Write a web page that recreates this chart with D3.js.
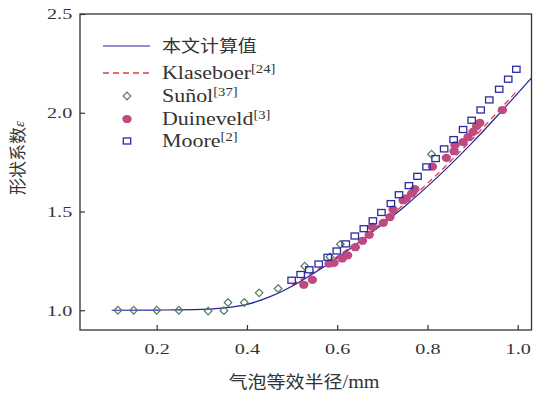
<!DOCTYPE html>
<meta charset="utf-8">
<script src="https://d3js.org/d3.v7.min.js"></script>
<html>
<head>
  <style>
    body { margin: 0; background: #fff; }
    .serif { font-family: "Liberation Serif", "DejaVu Serif", serif; }
    .cjk { font-family: "Noto Sans CJK SC", sans-serif; }
  </style>
</head>
<body>
<div id="my_dataviz"></div>
<script>
// ---- data ----
// 本文计算值 (blue line)
var calcX = [0.10, 0.20, 0.30, 0.35, 0.40, 0.45, 0.50, 0.55, 0.60, 0.65, 0.70, 0.75, 0.80, 0.85, 0.90, 0.95, 1.00, 1.03];
var calcY = [1.000, 1.001, 1.004, 1.012, 1.030, 1.068, 1.122, 1.190, 1.265, 1.348, 1.435, 1.527, 1.627, 1.735, 1.850, 1.972, 2.098, 2.175];

// Klaseboer (red dashed)
var klasX = [0.50, 0.55, 0.60, 0.65, 0.70, 0.75, 0.80, 0.85, 0.90, 0.95, 1.00];
var klasY = [1.128, 1.197, 1.272, 1.356, 1.445, 1.540, 1.642, 1.752, 1.868, 1.990, 2.115];

// Suñol (diamonds)
var sunolX = [0.114, 0.149, 0.200, 0.249, 0.314, 0.349, 0.358, 0.394, 0.427, 0.469, 0.528, 0.584, 0.607, 0.809];
var sunolY = [1.000, 1.000, 1.000, 1.000, 0.996, 0.998, 1.039, 1.039, 1.088, 1.110, 1.223, 1.270, 1.334, 1.790];

// Duineveld (filled circles)
var duinX = [0.526, 0.545, 0.582, 0.593, 0.611, 0.623, 0.640, 0.656, 0.671, 0.678, 0.702, 0.717, 0.724, 0.746, 0.753, 0.765, 0.772, 0.811, 0.842, 0.859, 0.861, 0.879, 0.890, 0.901, 0.909, 0.916, 0.966];
var duinY = [1.129, 1.154, 1.236, 1.240, 1.262, 1.278, 1.319, 1.352, 1.382, 1.422, 1.442, 1.472, 1.509, 1.557, 1.566, 1.591, 1.613, 1.727, 1.772, 1.805, 1.835, 1.851, 1.877, 1.903, 1.932, 1.949, 2.014];

// Moore (open squares)
var mooreX = [0.499, 0.519, 0.538, 0.559, 0.579, 0.599, 0.619, 0.639, 0.659, 0.679, 0.698, 0.719, 0.737, 0.759, 0.778, 0.798, 0.818, 0.837, 0.858, 0.879, 0.898, 0.918, 0.937, 0.959, 0.979, 0.997];
var mooreY = [1.152, 1.181, 1.205, 1.234, 1.268, 1.300, 1.336, 1.376, 1.413, 1.453, 1.495, 1.540, 1.585, 1.631, 1.678, 1.726, 1.768, 1.817, 1.864, 1.915, 1.962, 2.014, 2.065, 2.119, 2.170, 2.220];

var xTicks = [0.2, 0.4, 0.6, 0.8, 1.0];
var yTicks = [1.0, 1.5, 2.0, 2.5];

var legendNames = ["本文计算值", "Klaseboer", "Suñol", "Duineveld", "Moore"];
var legendRefs = ["", "[24]", "[37]", "[3]", "[2]"];

// ---- layout ----
var W = 538, H = 394;
var margin = {left: 80, right: 531.5, top: 14, bottom: 330};

var blue = "#23239a", red = "#e8373a", green = "#4f7d5c", pink = "#bf4a80", sqBlue = "#2c2ca0", axisCol = "#333";

var svg = d3.select("#my_dataviz")
  .append("svg")
    .attr("width", W)
    .attr("height", H);

var x = d3.scaleLinear().domain([0.03, 1.0306]).range([margin.left, margin.right]);
var y = d3.scaleLinear().domain([0.9, 2.5]).range([margin.bottom, margin.top]);

var zip = function(a, b) { return a.map(function(v, i) { return [v, b[i]]; }); };

// frame
svg.append("rect")
  .attr("x", margin.left).attr("y", margin.top)
  .attr("width", margin.right - margin.left).attr("height", margin.bottom - margin.top)
  .attr("fill", "none").attr("stroke", axisCol).attr("stroke-width", 1.3);

// bottom axis, ticks pointing inward
var gx = svg.append("g")
  .attr("transform", "translate(0," + margin.bottom + ")")
  .call(d3.axisBottom(x).tickValues(xTicks).tickSizeInner(-5).tickSizeOuter(0).tickPadding(13).tickFormat(d3.format(".1f")));
gx.select(".domain").remove();
gx.selectAll("line").attr("stroke", axisCol).attr("stroke-width", 1.2);
gx.selectAll("text").attr("class", "serif").style("font-size", "15.5px").attr("fill", "#333")
  .attr("transform", "scale(1.3,1)");

// left axis
var gy = svg.append("g")
  .attr("transform", "translate(" + margin.left + ",0)")
  .call(d3.axisLeft(y).tickValues(yTicks).tickSizeInner(-5).tickSizeOuter(0).tickPadding(6).tickFormat(d3.format(".1f")));
gy.select(".domain").remove();
gy.selectAll("line").attr("stroke", axisCol).attr("stroke-width", 1.2);
gy.selectAll("text").attr("class", "serif").style("font-size", "15.5px").attr("fill", "#333")
  .attr("transform", "scale(1.3,1)");

// axis titles
svg.append("text")
  .attr("transform", "translate(304,388) scale(1.12,1)")
  .attr("text-anchor", "middle")
  .style("font-size", "17px").attr("fill", "#333")
  .html('<tspan class="cjk">气泡等效半径</tspan><tspan class="serif" style="font-size:18px">/mm</tspan>');

svg.append("text")
  .attr("transform", "translate(24,158)rotate(-90)")
  .attr("text-anchor", "middle")
  .style("font-size", "17px").attr("fill", "#333")
  .html('<tspan class="cjk">形状系数</tspan><tspan class="serif" font-style="italic" style="font-size:15px">ε</tspan>');

// lines
var line = d3.line()
  .x(function(d) { return x(d[0]); })
  .y(function(d) { return y(d[1]); })
  .curve(d3.curveMonotoneX);

svg.append("path")
  .datum(zip(klasX, klasY))
  .attr("d", line)
  .attr("fill", "none").attr("stroke", red).attr("stroke-width", 1.3)
  .attr("stroke-dasharray", "6,4");

svg.append("path")
  .datum(zip(calcX, calcY))
  .attr("d", line)
  .attr("fill", "none").attr("stroke", blue).attr("stroke-width", 1.2);

// markers
var diamond = function(cx, cy, r) {
  return "M" + cx + "," + (cy - r) + "L" + (cx + r) + "," + cy + "L" + cx + "," + (cy + r) + "L" + (cx - r) + "," + cy + "Z";
};

svg.selectAll(".sunol")
  .data(zip(sunolX, sunolY))
  .enter().append("path")
    .attr("d", function(d) { return diamond(x(d[0]), y(d[1]), 3.8); })
    .attr("fill", "none").attr("stroke", green).attr("stroke-width", 1.2);

svg.selectAll(".duin")
  .data(zip(duinX, duinY))
  .enter().append("ellipse")
    .attr("cx", function(d) { return x(d[0]); })
    .attr("cy", function(d) { return y(d[1]); })
    .attr("rx", 4.7).attr("ry", 4.1)
    .attr("fill", pink);

svg.selectAll(".moore")
  .data(zip(mooreX, mooreY))
  .enter().append("rect")
    .attr("x", function(d) { return x(d[0]) - 3.7; })
    .attr("y", function(d) { return y(d[1]) - 3; })
    .attr("width", 7.4).attr("height", 6)
    .attr("fill", "none").attr("stroke", sqBlue).attr("stroke-width", 1.3);

// legend
var legY = [46, 73, 96, 119, 141];
var lg = svg.append("g");
lg.append("line").attr("x1", 103).attr("x2", 150).attr("y1", legY[0]).attr("y2", legY[0])
  .attr("stroke", blue).attr("stroke-width", 1.2);
lg.append("line").attr("x1", 103).attr("x2", 150).attr("y1", legY[1]).attr("y2", legY[1])
  .attr("stroke", red).attr("stroke-width", 1.3).attr("stroke-dasharray", "6,4");
lg.append("path").attr("d", diamond(127, legY[2], 3.8))
  .attr("fill", "none").attr("stroke", green).attr("stroke-width", 1.2);
lg.append("ellipse").attr("cx", 127).attr("cy", legY[3]).attr("rx", 4.7).attr("ry", 4.1).attr("fill", pink);
lg.append("rect").attr("x", 127 - 3.7).attr("y", legY[4] - 3).attr("width", 7.4).attr("height", 6)
  .attr("fill", "none").attr("stroke", sqBlue).attr("stroke-width", 1.3);

legendNames.forEach(function(name, i) {
  var t = lg.append("text")
    .attr("fill", "#333");
  if (i === 0) {
    t.attr("transform", "translate(162," + (legY[i] + 6) + ") scale(1.15,1)")
      .attr("class", "cjk").style("font-size", "16.5px").text(name);
  } else {
    t.attr("transform", "translate(162," + (legY[i] + 6) + ") scale(1.22,1)")
      .attr("class", "serif").style("font-size", "18px").text(name);
    t.append("tspan").attr("dy", -6).style("font-size", "12px").text(legendRefs[i]);
  }
});
</script>
</body>
</html>
